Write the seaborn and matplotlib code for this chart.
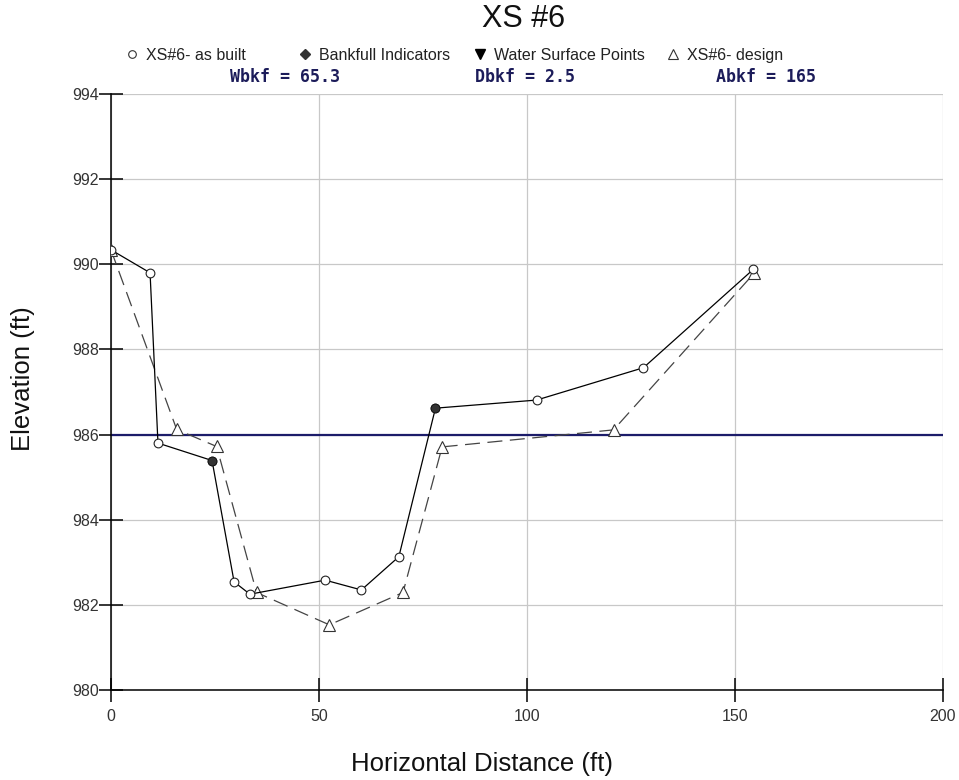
import matplotlib
matplotlib.use("Agg")
import matplotlib.pyplot as plt
from matplotlib.lines import Line2D
import seaborn as sns
import pandas as pd

# ---- data ----
built_x = [0, 9.4, 11.3, 24.3, 29.6, 33.4, 51.5, 60.2, 69.2, 78.0, 102.3, 128.0, 154.4]
built_y = [990.34, 989.80, 985.80, 985.39, 982.54, 982.25, 982.58, 982.35, 983.13,
           986.62, 986.81, 987.57, 989.88]
design_x = [0, 15.8, 25.4, 35.0, 52.5, 70.2, 79.6, 120.8, 154.6]
design_y = [990.34, 986.12, 985.72, 982.29, 981.53, 982.29, 985.71, 986.11, 989.79]
bankfull_x = [24.3, 78.0]
bankfull_y = [985.39, 986.62]
bankfull_elev = 986.0
x_ticks = [0, 50, 100, 150, 200]
y_ticks = [980, 982, 984, 986, 988, 990, 992, 994]
legend_labels = ["XS#6- as built", "Bankfull Indicators", "Water Surface Points", "XS#6- design"]
stats_text = ["Wbkf = 65.3", "Dbkf = 2.5", "Abkf = 165"]

built = pd.DataFrame({"x": built_x, "y": built_y})
design = pd.DataFrame({"x": design_x, "y": design_y})
bank = pd.DataFrame({"x": bankfull_x, "y": bankfull_y})

sns.set_style("white")
plt.rcParams["font.family"] = ["Liberation Sans", "DejaVu Sans"]

fig = plt.figure(figsize=(9.59, 7.80), dpi=100)
ax = fig.add_axes([0.1157, 0.1154, 0.8676, 0.7641])

ax.axhline(bankfull_elev, color="#1c1c6a", lw=1.6, zorder=2)

sns.lineplot(data=design, x="x", y="y", ax=ax, sort=False, color="#444444", lw=0.9,
             marker="^", markersize=8, markerfacecolor="white", markeredgecolor="#333333",
             markeredgewidth=0.8, dashes=False, zorder=3)
ax.lines[-1].set_dashes([12, 6])
sns.lineplot(data=built, x="x", y="y", ax=ax, sort=False, color="black", lw=0.9,
             marker="o", markersize=6.3, markerfacecolor="white", markeredgecolor="#222222",
             markeredgewidth=0.8, zorder=4)
sns.scatterplot(data=bank, x="x", y="y", ax=ax, color="#333333", s=40, marker="o",
                edgecolor="#111111", linewidth=0.6, zorder=5)

ax.set_xlim(0, 200)
ax.set_ylim(980, 994)
ax.set_xticks(x_ticks)
ax.set_yticks(y_ticks)
ax.grid(True, color="#c8c8c8", lw=0.9)
ax.set_axisbelow(True)
for s in ["top", "right"]:
    ax.spines[s].set_visible(False)
for s in ["left", "bottom"]:
    ax.spines[s].set_color("black")
    ax.spines[s].set_linewidth(1.1)
ax.tick_params(axis="both", bottom=True, left=True, direction="inout", length=17,
               width=1.1, color="black", labelsize=11.5, labelcolor="#333333", pad=0)
ax.tick_params(axis="x", pad=5)

ax.set_xlabel("Horizontal Distance (ft)", fontsize=18.5, color="#111111")
ax.set_ylabel("Elevation (ft)", fontsize=18.5, color="#111111")
ax.xaxis.set_label_coords(0.446, -0.104)
ax.yaxis.set_label_coords(-0.0916, 0.522)

fig.text(0.5464, 0.9756, "XS #6", ha="center", va="center", fontsize=22, color="#111111")

handles = [
    Line2D([], [], ls="none", marker="o", markersize=5.5, markerfacecolor="white",
           markeredgecolor="#333333", markeredgewidth=0.8),
    Line2D([], [], ls="none", marker="D", markersize=5, markerfacecolor="#333333",
           markeredgecolor="#333333"),
    Line2D([], [], ls="none", marker="v", markersize=6.5, markerfacecolor="black",
           markeredgecolor="black"),
    Line2D([], [], ls="none", marker="^", markersize=6.5, markerfacecolor="white",
           markeredgecolor="#333333", markeredgewidth=0.8),
]
leg_x = [0.131, 0.3114, 0.4938, 0.6951]
for xp, h, lab in zip(leg_x, handles, legend_labels):
    fig.legend([h], [lab], loc="center left", bbox_to_anchor=(xp, 0.929),
               frameon=False, fontsize=11.5, handlelength=0.8, handletextpad=0.5,
               borderpad=0, borderaxespad=0, labelcolor="#222222")

stat_x = [0.2972, 0.5474, 0.7987]
for xp, t in zip(stat_x, stats_text):
    fig.text(xp, 0.9013, t, ha="center", va="center", fontsize=12,
             family="DejaVu Sans Mono", fontweight="bold", color="#1c1c5a")

fig.savefig("out.png", dpi=100, facecolor="white")
